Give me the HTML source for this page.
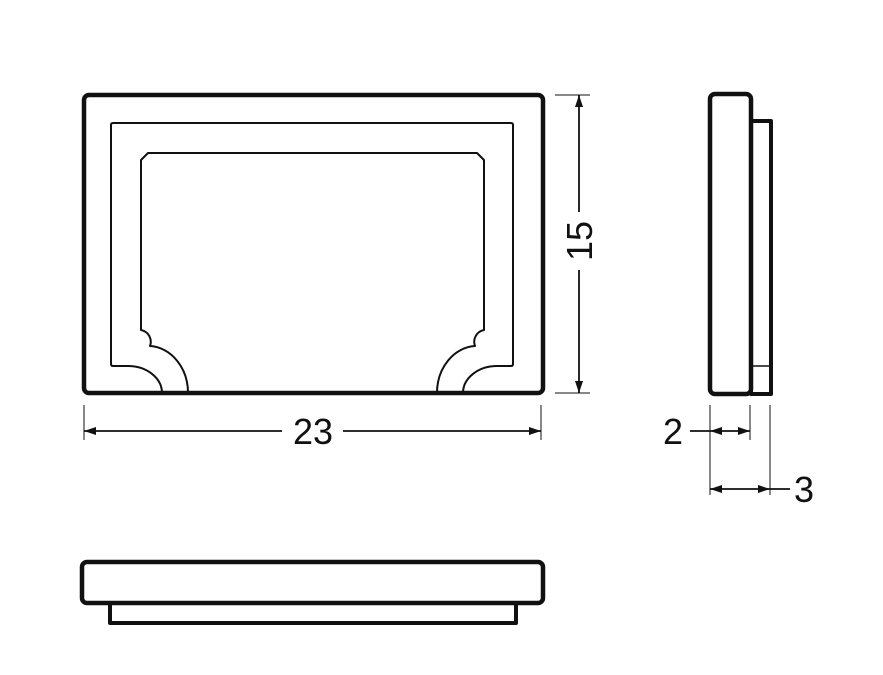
<!DOCTYPE html>
<html><head><meta charset="utf-8"><style>
html,body{margin:0;padding:0;background:#fff;}
svg{display:block}
text{font-family:"Liberation Sans",sans-serif;font-size:36px;fill:#111}
</style></head><body>
<svg width="883" height="675" viewBox="0 0 883 675" xmlns="http://www.w3.org/2000/svg">
<defs>
<marker id="a" viewBox="0 0 12 8" refX="12" refY="4" markerWidth="12" markerHeight="8" orient="auto-start-reverse" markerUnits="userSpaceOnUse"><path d="M0,0 L12,4 L0,8 Z" fill="#111"/></marker>
</defs>
<g fill="none" stroke="#111" stroke-linejoin="round">
<rect x="84" y="95" width="459" height="298" rx="5" stroke-width="4.5"/>
<path d="M162 393 A34 27 0 0 0 128 366 L113 366 Q111 366 111 364 L111 125 Q111 123 113 123 L511 123 Q513 123 513 125 L513 364 Q513 366 511 366 L497 366 A34 27 0 0 0 463 393" stroke-width="2"/>
<path d="M188 393 A40 47 0 0 0 150 346 A12 12 0 0 0 141 330 L141 160 L148 153 L477 153 L484 160 L484 330 A12 12 0 0 0 475 346 A40 47 0 0 0 437 393" stroke-width="2"/>
<path d="M751 394 L751 121 L771 121 L771 394 Z" stroke-width="4"/>
<rect x="710" y="94" width="41" height="300" rx="5" stroke-width="4.5"/>
<line x1="751" y1="366" x2="769" y2="366" stroke-width="1.5"/>
<rect x="110" y="601" width="406" height="22" stroke-width="4"/>
<rect x="82" y="562" width="461" height="41" rx="5" stroke-width="4.5" fill="#fff"/>
<g stroke-width="1">
<line x1="84" y1="405" x2="84" y2="440"/><line x1="541" y1="405" x2="541" y2="440"/>
<line x1="555" y1="95" x2="590" y2="95"/><line x1="555" y1="393" x2="590" y2="393"/>
<line x1="710" y1="405" x2="710" y2="495"/><line x1="750" y1="405" x2="750" y2="440"/><line x1="770" y1="405" x2="770" y2="495"/>
</g>
<g stroke-width="1.8">
<line x1="84" y1="431" x2="282" y2="431" marker-start="url(#a)"/>
<line x1="343" y1="431" x2="541" y2="431" marker-end="url(#a)"/>
<line x1="579" y1="95" x2="579" y2="212" marker-start="url(#a)"/>
<line x1="579" y1="270" x2="579" y2="393" marker-end="url(#a)"/>
<line x1="690" y1="431" x2="710" y2="431"/>
<line x1="710" y1="431" x2="750" y2="431" marker-start="url(#a)" marker-end="url(#a)"/>
<line x1="710" y1="489" x2="770" y2="489" marker-start="url(#a)" marker-end="url(#a)"/>
<line x1="770" y1="489" x2="790" y2="489"/>
</g>
</g>
<text x="313" y="444" text-anchor="middle">23</text>
<text transform="translate(592,241) rotate(-90)" text-anchor="middle">15</text>
<text x="673" y="444" text-anchor="middle">2</text>
<text x="804" y="502" text-anchor="middle">3</text>
</svg>
</body></html>
